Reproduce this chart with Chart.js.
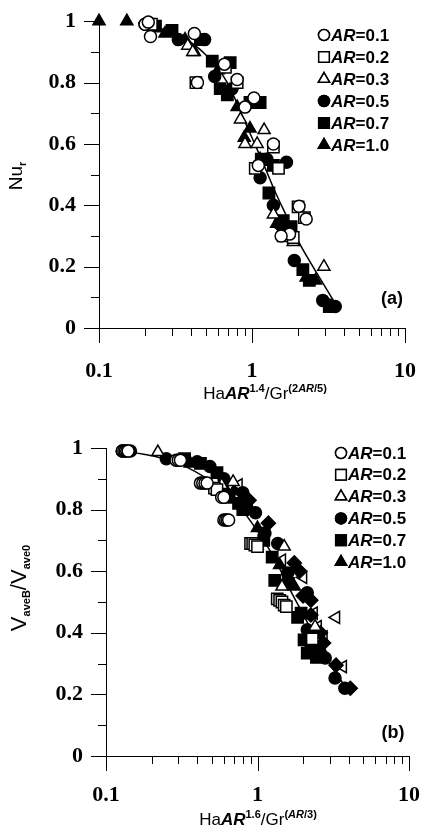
<!DOCTYPE html>
<html lang="en">
<head>
<meta charset="UTF-8">
<title>Nu_r and V_aveB/V_ave0 vs scaled Hartmann number</title>
<script src="https://cdn.jsdelivr.net/npm/chart.js@4.4.1/dist/chart.umd.min.js"></script>
<style>
  body { margin: 0; background: #fff; }
  .wrap { position: relative; width: 431px; height: 834px; overflow: hidden;
          font-family: "Liberation Sans", Arial, sans-serif; color: #000; }
  canvas { position: absolute; left: 0; }
  #chartA { top: 0; }
  #chartB { top: 410px; }
  .lbl { position: absolute; white-space: nowrap; line-height: 1; transform: translate(-50%, -50%); }
  .rot { transform: translate(-50%, -50%) rotate(-90deg); }
  .lbl sup, .lbl sub { font-size: 11px; font-weight: bold; }
  .lbl sup { vertical-align: 7px; }
  .lbl sub { vertical-align: -4px; }
</style>
</head>
<body>
<div class="wrap">
  <canvas id="chartA" width="431" height="410"></canvas>
  <canvas id="chartB" width="431" height="424"></canvas>

  <div class="lbl rot" style="left:17px;top:176px;font-size:19px">Nu<sub>r</sub></div>
  <div class="lbl" style="left:265px;top:392px;font-size:17px">Ha<b><i>AR</i></b><sup>1.4</sup>/Gr<sup>(2<i>AR</i>/5)</sup></div>
  <div class="lbl" style="left:392px;top:298px;font-size:18px;font-weight:bold">(a)</div>

  <div class="lbl rot" style="left:20px;top:588px;font-size:22px">V<sub>aveB</sub>/V<sub>ave0</sub></div>
  <div class="lbl" style="left:258px;top:818px;font-size:17px">Ha<b><i>AR</i></b><sup>1.6</sup>/Gr<sup>(<i>AR</i>/3)</sup></div>
  <div class="lbl" style="left:393px;top:732px;font-size:18px;font-weight:bold">(b)</div>
</div>

<script>
// tick positions
const xMajor = [0.1, 1, 10];
const xMinor = [0.2, 0.3, 0.4, 0.5, 0.6, 0.7, 0.8, 0.9, 2, 3, 4, 5, 6, 7, 8, 9];
const yMajor = [0, 0.2, 0.4, 0.6, 0.8, 1];
const yMinor = [0.1, 0.3, 0.5, 0.7, 0.9];

const arLabels = ['0.1', '0.2', '0.3', '0.5', '0.7', '1.0'];

// panel (a): Nu_r  [x, y]
const a01 = [[0.2,0.99],[0.21,0.997],[0.217,0.95],[0.42,0.96],[0.66,0.86],[0.8,0.81],[0.44,0.8],[0.9,0.72],[1.03,0.75],[1.38,0.6],[2.03,0.397],[2.26,0.355],[1.76,0.306],[1.55,0.3],[1.1,0.53]];
const a02 = [[0.22,0.99],[0.43,0.8],[0.8,0.8],[0.67,0.85],[1.38,0.59],[1.05,0.52],[1.49,0.52],[2.0,0.395],[2.2,0.36],[1.6,0.3],[1.86,0.295]];
const a03 = [[0.38,0.92],[0.41,0.9],[0.66,0.85],[0.84,0.68],[1.2,0.645],[0.9,0.6],[1.08,0.6],[1.38,0.37],[1.86,0.28],[2.95,0.2]];
const a05 = [[0.2,0.99],[0.33,0.94],[0.49,0.94],[0.57,0.82],[0.74,0.78],[1.0,0.74],[1.13,0.49],[1.25,0.55],[1.68,0.54],[1.38,0.4],[1.51,0.34],[1.89,0.22],[2.9,0.09],[3.2,0.075],[3.5,0.07]];
const a07 = [[0.234,0.984],[0.3,0.97],[0.46,0.94],[0.55,0.87],[0.72,0.865],[0.62,0.78],[0.69,0.76],[0.97,0.735],[1.13,0.735],[1.15,0.55],[1.38,0.53],[1.29,0.44],[1.6,0.35],[1.8,0.33],[2.15,0.19],[2.37,0.155],[3.2,0.07]];
const a10 = [[0.1,1.0],[0.152,1.0],[0.27,0.96],[0.365,0.94],[0.42,0.9],[0.6,0.84],[0.8,0.72],[0.89,0.62],[0.97,0.65],[1.13,0.55],[1.45,0.34],[1.7,0.33],[2.26,0.165],[2.6,0.155]];
const curveA = [[0.18,0.995],[0.33,0.955],[0.5,0.89],[0.69,0.8],[0.85,0.7],[1.0,0.62],[1.2,0.53],[1.4,0.45],[1.7,0.36],[2.0,0.285],[2.5,0.2],[3.0,0.135],[3.5,0.08]];

// panel (b): V_aveB / V_ave0
const b01 = [[0.128,0.99],[0.131,0.99],[0.134,0.99],[0.137,0.99],[0.14,0.99],[0.29,0.96],[0.3,0.96],[0.31,0.96],[0.42,0.886],[0.435,0.886],[0.45,0.886],[0.465,0.886],[0.58,0.84],[0.6,0.84],[0.6,0.766],[0.615,0.766],[0.63,0.766],[0.645,0.766]];
const b02 = [[0.52,0.87],[0.54,0.865],[0.9,0.69],[0.93,0.69],[0.96,0.685],[1.0,0.68],[1.35,0.51],[1.4,0.505],[1.45,0.5],[1.5,0.49],[1.55,0.485],[2.3,0.38]];
const b03 = [[0.22,0.987],[0.58,0.88],[0.69,0.89],[1.5,0.68],[1.45,0.55],[2.4,0.42]];
const b05 = [[0.128,0.99],[0.145,0.99],[0.25,0.965],[0.3,0.96],[0.4,0.955],[0.485,0.94],[0.6,0.9],[0.8,0.855],[0.97,0.79],[1.12,0.724],[1.36,0.69],[1.58,0.594],[2.13,0.53],[2.13,0.41],[2.35,0.4],[2.8,0.318],[3.25,0.253],[3.77,0.22]];
const b07 = [[0.33,0.965],[0.42,0.95],[0.54,0.92],[0.65,0.84],[0.75,0.82],[0.8,0.8],[1.1,0.7],[1.25,0.646],[1.3,0.57],[1.6,0.56],[1.94,0.464],[1.84,0.45],[2.03,0.377],[2.25,0.354],[2.13,0.334],[2.45,0.32]];
const b10 = [[0.36,0.95],[0.6,0.875],[0.7,0.86],[0.9,0.8],[1.0,0.74],[1.4,0.62],[1.75,0.55],[2.45,0.4],[2.6,0.35]];
const bDia = [[0.6,0.86],[0.88,0.83],[1.18,0.756],[1.75,0.627],[1.9,0.6],[2.0,0.52],[2.25,0.506],[2.25,0.458],[2.6,0.4],[2.73,0.367],[3.3,0.295],[4.1,0.22]];
const bTriL = [[0.75,0.88],[1.45,0.636],[2.0,0.58],[1.5,0.56],[2.35,0.464],[2.5,0.42],[2.73,0.387],[3.3,0.45],[3.66,0.29]];
const curveB = [[0.13,0.99],[0.2,0.975],[0.3,0.95],[0.5,0.89],[0.7,0.83],[1.0,0.73],[1.3,0.64],[1.6,0.55],[2.0,0.46],[2.5,0.37],[3.0,0.3],[3.5,0.25],[4.0,0.21]];

const toXY = arr => arr.map(p => ({x: p[0], y: p[1]}));

// marker styles for AR=0.1 ... 1.0
const markers = [
  {pointStyle: 'circle',   radius: 6,   fill: '#fff'},
  {pointStyle: 'rect',     radius: 8,   fill: '#fff'},
  {pointStyle: 'triangle', radius: 7,   fill: '#fff'},
  {pointStyle: 'circle',   radius: 6,   fill: '#000'},
  {pointStyle: 'rect',     radius: 8,   fill: '#000'},
  {pointStyle: 'triangle', radius: 7,   fill: '#000'}
];

function pointSet(data, m, rotation) {
  return {
    data: toXY(data),
    pointStyle: m.pointStyle,
    pointRadius: m.radius,
    pointRotation: rotation || 0,
    backgroundColor: m.fill,
    borderColor: '#000',
    borderWidth: 1.5,
    showLine: false,
    clip: false
  };
}

// minor and major tick marks drawn on the outside of the axes
const tickMarks = {
  id: 'tickMarks',
  afterDraw(chart) {
    const {ctx, chartArea: a, scales: {x, y}} = chart;
    ctx.save();
    ctx.strokeStyle = '#000';
    ctx.lineWidth = 1;
    ctx.beginPath();
    const yt = (v, len) => { const p = Math.round(y.getPixelForValue(v)) + 0.5; ctx.moveTo(a.left - len, p); ctx.lineTo(a.left, p); };
    const xt = (v, len) => { const p = Math.round(x.getPixelForValue(v)) + 0.5; ctx.moveTo(p, a.bottom); ctx.lineTo(p, a.bottom + len); };
    yMajor.forEach(v => yt(v, 15));
    yMinor.forEach(v => yt(v, 8));
    xMajor.forEach(v => xt(v, 15));
    xMinor.forEach(v => xt(v, 8));
    ctx.stroke();
    ctx.restore();
  }
};

// legend: marker + "AR=..." with AR in bold italic
const arLegend = {
  id: 'arLegend',
  afterDraw(chart, args, opts) {
    const ctx = chart.ctx;
    ctx.save();
    ctx.textBaseline = 'middle';
    arLabels.forEach((lab, i) => {
      const m = markers[i];
      const cy = opts.top + i * opts.step;
      Chart.helpers.drawPoint(ctx, {
        pointStyle: m.pointStyle, radius: m.radius - 0.5, rotation: 0, borderWidth: 1.5
      }, opts.left, cy);
      ctx.fillStyle = m.fill;
      ctx.strokeStyle = '#000';
      ctx.lineWidth = 1.5;
      ctx.fill();
      ctx.stroke();
      ctx.fillStyle = '#000';
      let tx = opts.left + 7;
      ctx.font = 'italic bold 17px "Liberation Sans", Arial, sans-serif';
      ctx.fillText('AR', tx, cy + 1);
      tx += ctx.measureText('AR').width;
      ctx.font = 'bold 17px "Liberation Sans", Arial, sans-serif';
      ctx.fillText('=' + lab, tx, cy + 1);
    });
    ctx.restore();
  }
};

function makeChart(id, series, extra, curve, box) {
  const datasets = series.map((s, i) => pointSet(s, markers[i]));
  extra.forEach(e => datasets.push(e));
  datasets.push({
    type: 'line',
    data: toXY(curve),
    borderColor: '#000',
    borderWidth: 1.5,
    pointRadius: 0,
    fill: false,
    cubicInterpolationMode: 'monotone',
    clip: false
  });

  return new Chart(document.getElementById(id), {
    type: 'scatter',
    data: {datasets},
    options: {
      responsive: false,
      animation: false,
      layout: {padding: {top: box.top, right: box.right, left: 0, bottom: 0}},
      plugins: {
        legend: {display: false},
        tooltip: {enabled: false},
        arLegend: box.legend
      },
      scales: {
        x: {
          type: 'logarithmic',
          min: 0.1,
          max: 10,
          afterFit: s => { s.height = box.xh; },
          border: {display: true, color: '#000', width: 1},
          grid: {drawOnChartArea: false, color: 'rgba(0,0,0,0)', tickLength: 15},
          ticks: {
            autoSkip: false,
            maxRotation: 0,
            padding: box.xpad,
            color: '#000',
            font: {family: '"Liberation Serif", "Times New Roman", serif', weight: 'bold', size: 22},
            callback: v => xMajor.some(m => Math.abs(m - v) < 1e-9 * m + 1e-12) ? String(v) : ''
          }
        },
        y: {
          min: 0,
          max: 1,
          afterFit: s => { s.width = box.yw; },
          border: {display: true, color: '#000', width: 1},
          grid: {drawOnChartArea: false, color: 'rgba(0,0,0,0)', tickLength: 15},
          ticks: {
            stepSize: 0.2,
            padding: 8,
            color: '#000',
            font: {family: '"Liberation Serif", "Times New Roman", serif', weight: 'bold', size: 22},
            callback: v => String(Math.round(v * 10) / 10)
          }
        }
      }
    },
    plugins: [tickMarks, arLegend]
  });
}

makeChart('chartA', [a01, a02, a03, a05, a07, a10], [], curveA,
  {top: 18, right: 21, xh: 82, yw: 99, xpad: 15, legend: {left: 324, top: 35, step: 22}});

makeChart('chartB', [b01, b02, b03, b05, b07, b10], [
  pointSet(bDia, {pointStyle: 'rectRot', radius: 7, fill: '#000'}),
  pointSet(bTriL, {pointStyle: 'triangle', radius: 7, fill: '#fff'}, -90)
], curveB,
  {top: 38, right: 13, xh: 78, yw: 106, xpad: 11, legend: {left: 341, top: 43, step: 21.8}});
</script>
</body>
</html>
